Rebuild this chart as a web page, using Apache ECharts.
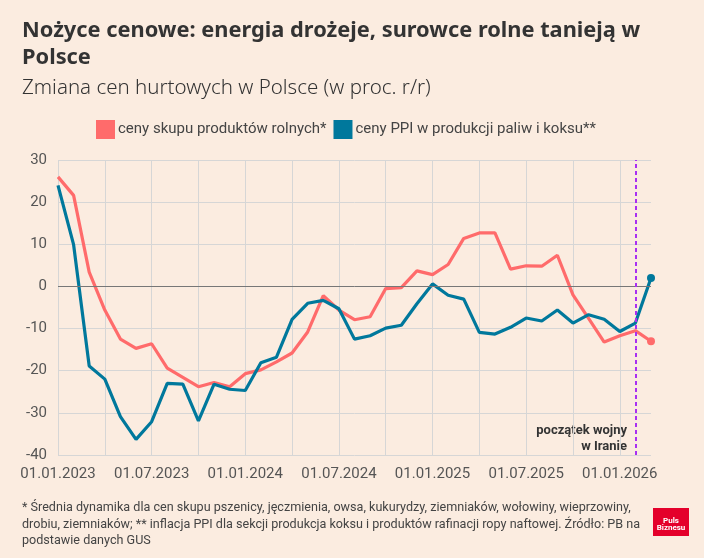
<!DOCTYPE html>
<html>
<head>
<meta charset="utf-8">
<script src="https://cdn.jsdelivr.net/npm/echarts@6/dist/echarts.min.js"></script>
<style>
    html, body { margin: 0; padding: 0; background: #fbece0; }
    #chart { width: 704px; height: 558px; }
</style>
</head>
<body>
<div id="chart"></div>
<script>
(function () {
    'use strict';

    // miesiace 01.2023 - 03.2026
    var months = [
        '01.01.2023', '01.02.2023', '01.03.2023', '01.04.2023', '01.05.2023', '01.06.2023',
        '01.07.2023', '01.08.2023', '01.09.2023', '01.10.2023', '01.11.2023', '01.12.2023',
        '01.01.2024', '01.02.2024', '01.03.2024', '01.04.2024', '01.05.2024', '01.06.2024',
        '01.07.2024', '01.08.2024', '01.09.2024', '01.10.2024', '01.11.2024', '01.12.2024',
        '01.01.2025', '01.02.2025', '01.03.2025', '01.04.2025', '01.05.2025', '01.06.2025',
        '01.07.2025', '01.08.2025', '01.09.2025', '01.10.2025', '01.11.2025', '01.12.2025',
        '01.01.2026', '01.02.2026', '01.03.2026'
    ];

    // ceny skupu produktow rolnych (r/r, %)
    var rolne = [
        26.0, 21.6, 3.4, -5.6, -12.5, -14.7,
        -13.6, -19.4, -21.6, -23.8, -22.8, -23.8,
        -20.7, -19.8, -17.9, -15.8, -10.8, -2.2,
        -5.6, -7.9, -7.2, -0.5, -0.3, 3.7,
        2.8, 5.2, 11.4, 12.7, 12.7, 4.1,
        4.9, 4.8, 7.4, -2.0, -7.6, -13.2,
        -11.7, -10.5, -13.0
    ];

    // ceny PPI w produkcji paliw i koksu (r/r, %)
    var paliwa = [
        24.0, 9.9, -18.9, -22.0, -30.9, -36.3,
        -32.1, -23.0, -23.2, -31.9, -23.2, -24.4,
        -24.7, -18.1, -16.8, -7.8, -4.0, -3.3,
        -5.3, -12.5, -11.7, -9.9, -9.2, -4.1,
        0.6, -2.1, -3.0, -10.9, -11.3, -9.7,
        -7.5, -8.2, -5.6, -8.7, -6.7, -7.8,
        -10.7, -8.7, 2.0
    ];

    var seriesNames = ['ceny skupu produktów rolnych*', 'ceny PPI w produkcji paliw i koksu**'];
    var colors = ['#ff6b6b', '#00789c'];
    var warMonth = '01.02.2026';

    var font = 'Roboto, "Noto Sans", sans-serif';
    var headFont = '"Noto Sans", Roboto, sans-serif';

    function withEndDot(arr) {
        return arr.map(function (v, i) {
            if (i === arr.length - 1) {
                return { value: v, symbol: 'circle', symbolSize: 8 };
            }
            return v;
        });
    }

    var chart = echarts.init(document.getElementById('chart'));

    var option = {
        backgroundColor: '#fbece0',
        animation: false,
        color: colors,
        title: [{
            text: 'Nożyce cenowe: energia drożeje, surowce rolne tanieją w\nPolsce',
            left: 17,
            top: 12,
            textStyle: {
                fontFamily: headFont,
                fontWeight: 'bold',
                fontSize: 21.8,
                lineHeight: 27,
                color: '#333333'
            }
        }, {
            text: 'Zmiana cen hurtowych w Polsce (w proc. r/r)',
            left: 17,
            top: 73,
            textStyle: {
                fontFamily: headFont,
                fontWeight: 300,
                fontSize: 20.5,
                color: '#333333'
            }
        }],
        legend: {
            top: 115,
            left: 91,
            icon: 'rect',
            itemWidth: 19,
            itemHeight: 19,
            itemGap: 7,
            selectedMode: false,
            textStyle: {
                fontFamily: font,
                fontSize: 15,
                color: '#444444',
                padding: [0, 0, 0, -2]
            },
            data: seriesNames
        },
        grid: {
            left: 58,
            right: 53,
            top: 160,
            bottom: 103
        },
        xAxis: {
            type: 'category',
            data: months,
            boundaryGap: false,
            axisLine: { show: false },
            axisTick: { show: false },
            axisLabel: {
                interval: 5,
                margin: 12,
                fontFamily: font,
                fontSize: 15,
                color: '#555555'
            },
            splitLine: {
                show: true,
                interval: 2,
                lineStyle: { color: '#d6d6d6', width: 1 }
            }
        },
        yAxis: {
            type: 'value',
            min: -40,
            max: 30,
            interval: 10,
            axisLine: { show: false },
            axisTick: { show: false },
            axisLabel: {
                margin: 11,
                fontFamily: font,
                fontSize: 15,
                color: '#555555'
            },
            splitLine: {
                lineStyle: { color: '#d6d6d6', width: 1 }
            }
        },
        series: [{
            name: seriesNames[0],
            type: 'line',
            data: withEndDot(rolne),
            symbol: 'none',
            lineStyle: { width: 3.2, color: colors[0] },
            itemStyle: { color: colors[0] },
            markLine: {
                silent: true,
                symbol: 'none',
                label: { show: false },
                lineStyle: { color: '#777777', width: 1, type: 'solid' },
                data: [{ yAxis: 0 }]
            },
            z: 3
        }, {
            name: seriesNames[1],
            type: 'line',
            data: withEndDot(paliwa),
            symbol: 'none',
            lineStyle: { width: 3.2, color: colors[1] },
            itemStyle: { color: colors[1] },
            markLine: {
                silent: true,
                symbol: 'none',
                label: { show: false },
                lineStyle: { color: '#a92ff2', width: 2, type: [4, 3] },
                data: [{ xAxis: warMonth }]
            },
            z: 4
        }],
        graphic: [{
            type: 'text',
            x: 627,
            y: 423,
            style: {
                text: 'początek wojny\nw Iranie',
                align: 'right',
                verticalAlign: 'top',
                fontFamily: font,
                fontWeight: 'bold',
                fontSize: 13,
                lineHeight: 16,
                fill: '#333333'
            }
        }, {
            type: 'text',
            left: 22,
            top: 500,
            style: {
                text: '* Średnia dynamika dla cen skupu pszenicy, jęczmienia, owsa, kukurydzy, ziemniaków, wołowiny, wieprzowiny,\n' +
                    'drobiu, ziemniaków; ** inflacja PPI dla sekcji produkcja koksu i produktów rafinacji ropy naftowej. Źródło: PB na\n' +
                    'podstawie danych GUS',
                fontFamily: font,
                fontSize: 12.6,
                lineHeight: 16.5,
                fill: '#444444'
            }
        }, {
            type: 'group',
            left: 653,
            top: 508,
            children: [{
                type: 'rect',
                shape: { x: 0, y: 0, width: 36, height: 28 },
                style: { fill: '#e4002b' }
            }, {
                type: 'text',
                x: 18,
                y: 9,
                style: {
                    text: 'Puls',
                    align: 'center',
                    fontFamily: font,
                    fontWeight: 'bold',
                    fontSize: 8,
                    fill: '#ffffff'
                }
            }, {
                type: 'text',
                x: 18,
                y: 16,
                style: {
                    text: 'Biznesu',
                    align: 'center',
                    fontFamily: font,
                    fontWeight: 'bold',
                    fontSize: 8,
                    fill: '#ffffff'
                }
            }]
        }]
    };

    chart.setOption(option);
})();
</script>
</body>
</html>
